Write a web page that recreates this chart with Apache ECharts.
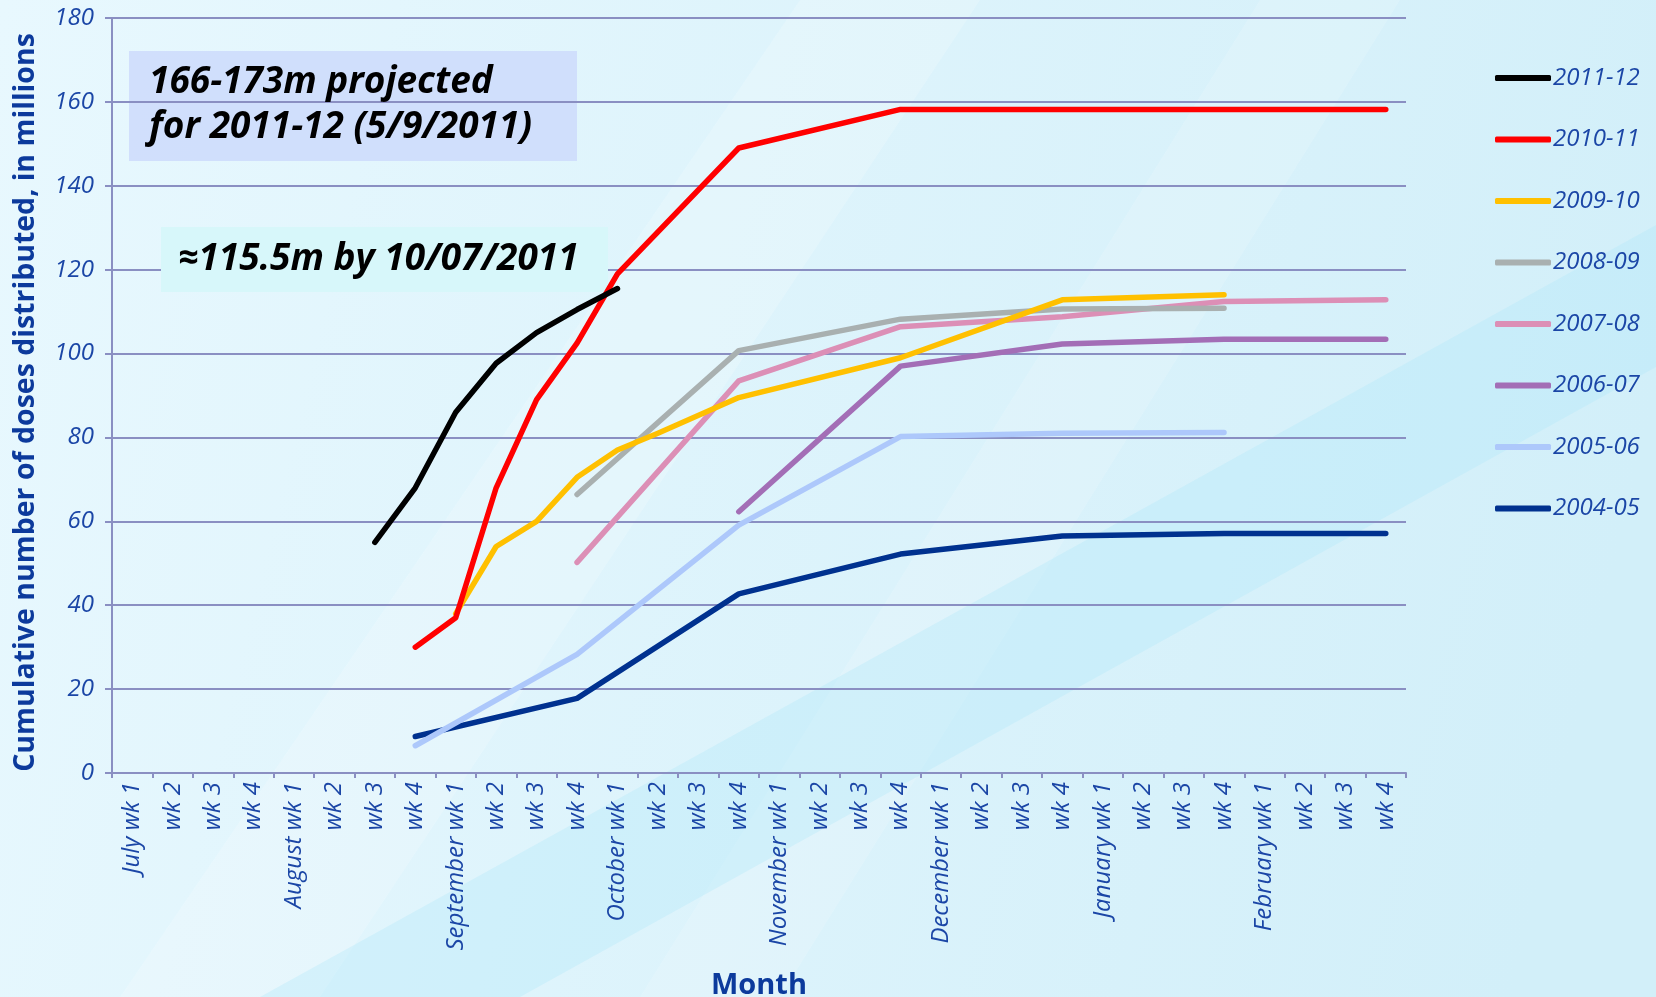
<!DOCTYPE html>
<html>
<head>
<meta charset="utf-8">
<title>Cumulative doses distributed</title>
<script src="https://cdn.jsdelivr.net/npm/echarts@6/dist/echarts.min.js"></script>
<style>
  html, body { margin: 0; padding: 0; }
  #chart { width: 1656px; height: 997px; }
</style>
</head>
<body>
<div id="chart"></div>
<script>
// x axis: weeks from July to February
var months = ['July', 'August', 'September', 'October', 'November', 'December', 'January', 'February'];
var weeks = ['wk 1', 'wk 2', 'wk 3', 'wk 4'];
var categories = [];
months.forEach(function (m) {
  weeks.forEach(function (w, j) {
    categories.push(j === 0 ? m + ' ' + w : w);
  });
});

var seasons = ['2011-12', '2010-11', '2009-10', '2008-09', '2007-08', '2006-07', '2005-06', '2004-05'];
var colors = ['#000000', '#ff0000', '#ffc000', '#a9b0b0', '#dc8fb6', '#a36eb6', '#adc8fb', '#00318f'];

// cumulative doses (millions), null = no report that week
var s2011 = [null, null, null, null, null, null, 55, 68, 86, 97.7, 105, 110.5, 115.5];
var s2010 = [null, null, null, null, null, null, null, 30, 37, 68, 89, 102.5, 119, null, null, 149,
  null, null, null, 158.2, null, null, null, 158.2, null, null, null, 158.2, null, null, null, 158.2];
var s2009 = [null, null, null, null, null, null, null, null, 38, 54, 60, 70.5, 77, 81, null, 89.5,
  null, null, null, 99, null, null, null, 112.8, null, null, null, 114];
var s2008 = [null, null, null, null, null, null, null, null, null, null, null, 66.4, null, null, null, 100.7,
  null, null, null, 108.2, null, null, null, 110.6, null, null, null, 110.8];
var s2007 = [null, null, null, null, null, null, null, null, null, null, null, 50.2, null, null, null, 93.5,
  null, null, null, 106.4, null, null, null, 108.8, null, null, null, 112.4, null, null, null, 112.8];
var s2006 = [null, null, null, null, null, null, null, null, null, null, null, null, null, null, null, 62.3,
  null, null, null, 97, null, null, null, 102.3, null, null, null, 103.4, null, null, null, 103.4];
var s2005 = [null, null, null, null, null, null, null, 6.5, null, null, null, 28.3, null, null, null, 59.1,
  null, null, null, 80.2, null, null, null, 81, null, null, null, 81.2];
var s2004 = [null, null, null, null, null, null, null, 8.7, null, null, null, 17.8, null, null, null, 42.7,
  null, null, null, 52.2, null, null, null, 56.5, null, null, null, 57.1, null, null, null, 57.1];
var seasonData = [s2011, s2010, s2009, s2008, s2007, s2006, s2005, s2004];

var yTicks = { min: 0, max: 180, step: 20 };

var labelBlue = '#1b46a6';
var nameBlue = '#0c3a9c';
var gridColor = '#8a8fc2';

var chart = echarts.init(document.getElementById('chart'), null, { renderer: 'canvas' });

var series = seasons.map(function (name, i) {
  return {
    name: name,
    type: 'line',
    data: seasonData[i],
    connectNulls: true,
    showSymbol: false,
    symbol: 'none',
    color: colors[i],
    z: 10 - i,
    lineStyle: { width: 5.5, color: colors[i], cap: 'round', join: 'round' },
    emphasis: { disabled: true }
  };
});

var option = {
  backgroundColor: new echarts.graphic.LinearGradient(0, 0, 1, 0.4, [
    { offset: 0, color: '#e8f8fe' },
    { offset: 1, color: '#d2eff9' }
  ]),
  animation: false,
  textStyle: { fontFamily: '"Open Sans", sans-serif' },
  grid: { left: 112, right: 250, top: 18, bottom: 224, containLabel: false, outerBoundsMode: 'none' },
  legend: {
    orient: 'vertical',
    left: 1490,
    top: 61,
    itemWidth: 56,
    itemHeight: 6,
    itemGap: 37.5,
    icon: 'roundRect',
    data: seasons,
    textStyle: { color: labelBlue, fontStyle: 'italic', fontSize: 24, lineHeight: 24, padding: [0, 0, 0, -3] }
  },
  xAxis: {
    type: 'category',
    data: categories,
    boundaryGap: true,
    name: 'Month',
    nameLocation: 'middle',
    nameGap: 198,
    nameTextStyle: { color: nameBlue, fontSize: 29, fontWeight: 'bold' },
    axisLine: { lineStyle: { color: gridColor, width: 2 } },
    axisTick: { show: true, length: 5, lineStyle: { color: gridColor, width: 2 } },
    axisLabel: { interval: 0, rotate: 90, margin: 9, color: labelBlue, fontStyle: 'italic', fontSize: 24 },
    splitLine: { show: false }
  },
  yAxis: {
    type: 'value',
    min: yTicks.min,
    max: yTicks.max,
    interval: yTicks.step,
    name: 'Cumulative number of doses distributed, in millions',
    nameLocation: 'middle',
    nameGap: 72,
    nameTextStyle: { color: nameBlue, fontSize: 28.5, fontWeight: 'bold', padding: [0, 14, 0, 0] },
    axisLine: { show: true, lineStyle: { color: gridColor, width: 2 } },
    axisTick: { show: true, length: 7, lineStyle: { color: gridColor, width: 2 } },
    axisLabel: { margin: 18, color: labelBlue, fontStyle: 'italic', fontSize: 24 },
    splitLine: { lineStyle: { color: gridColor, width: 2 } }
  },
  graphic: [
    // soft background bands
    { type: 'polygon', z: -20, silent: true,
      shape: { points: [[120, 997], [320, 997], [980, 0], [800, 0]] },
      style: { fill: 'rgba(255,255,255,0.18)' } },
    { type: 'polygon', z: -20, silent: true,
      shape: { points: [[640, 997], [780, 997], [1400, 0], [1260, 0]] },
      style: { fill: 'rgba(255,255,255,0.14)' } },
    { type: 'polygon', z: -19, silent: true,
      shape: { points: [[1656, 225], [1656, 367], [520, 997], [260, 997]] },
      style: { fill: 'rgba(178,232,250,0.35)' } },
    // annotation boxes
    { type: 'rect', z: -5, silent: true,
      shape: { x: 129, y: 51, width: 448, height: 110 },
      style: { fill: 'rgba(205,219,251,0.85)' } },
    { type: 'text', z: 20, silent: true, left: 149, top: 60,
      style: { text: '166-173m projected\nfor 2011-12 (5/9/2011)', fill: '#000',
        font: 'italic bold 37px "Open Sans", sans-serif', lineHeight: 45 } },
    { type: 'rect', z: 1, silent: true,
      shape: { x: 161, y: 227, width: 447, height: 65 },
      style: { fill: '#d7f7fa' } },
    { type: 'text', z: 20, silent: true, left: 178, top: 237,
      style: { text: '\u2248115.5m by 10/07/2011', fill: '#000',
        font: 'italic bold 37px "Open Sans", sans-serif', lineHeight: 45 } }
  ],
  series: series
};

chart.setOption(option);
</script>
</body>
</html>
